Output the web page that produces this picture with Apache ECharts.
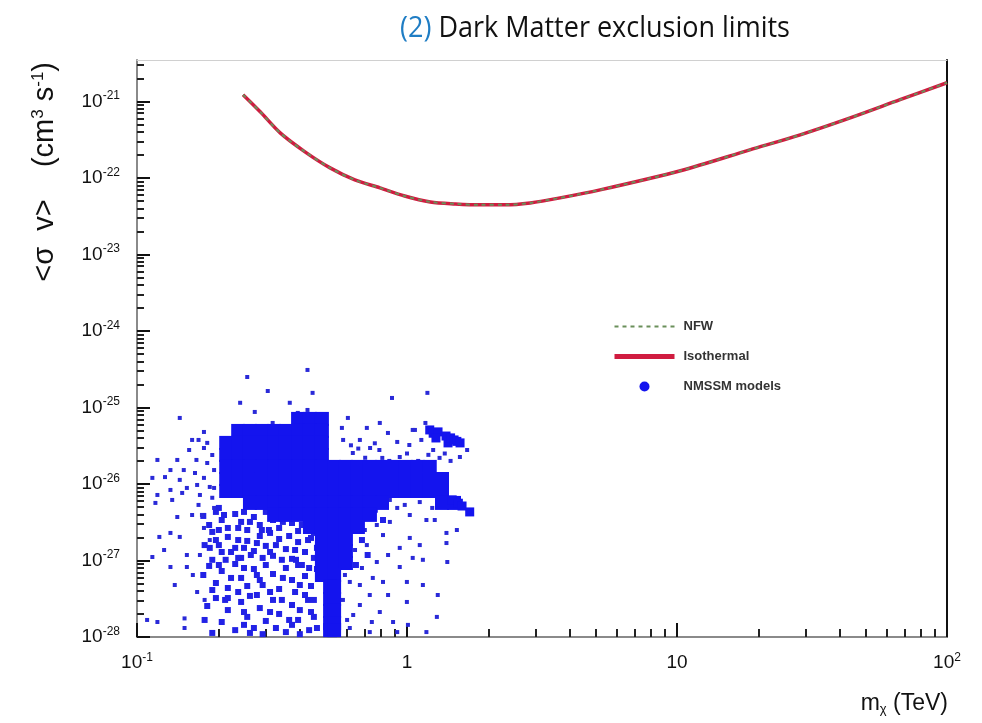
<!DOCTYPE html>
<html><head><meta charset="utf-8">
<script src="https://cdn.jsdelivr.net/npm/echarts@6/dist/echarts.min.js"></script>
<style>html,body{margin:0;padding:0;background:#fff}#c{width:982px;height:723px}</style>
</head><body><div id="c"></div>
<script>
// ---- axis ticks ----
const massTicks = [0.1, 1, 10, 100];
const sigmaTicks = [1e-28, 1e-27, 1e-26, 1e-25, 1e-24, 1e-23, 1e-22, 1e-21];
const massMin = 0.1, massMax = 100;
const sigmaMin = 1e-28, sigmaMax = 3.47e-21;

// ---- exclusion curves [mass TeV, <sigma v> cm^3 s^-1] ----
const isothermal = [[0.247,1.22e-21],[0.286,7.3e-22],[0.339,3.87e-22],[0.419,2.19e-22],[0.519,1.35e-22],[0.641,9.4e-23],[0.794,7.4e-23],[0.98,5.8e-23],[1.22,4.85e-23],[1.51,4.57e-23],[1.86,4.44e-23],[2.31,4.44e-23],[2.86,4.71e-23],[3.69,5.48e-23],[5.19,6.97e-23],[10.3,1.24e-22],[18.6,2.32e-22],[28.6,3.65e-22],[43.8,6.08e-22],[67.0,1.05e-21],[100,1.75e-21]];
const nfw = [[0.247,1.22e-21],[0.286,7.3e-22],[0.339,3.87e-22],[0.419,2.19e-22],[0.519,1.35e-22],[0.641,9.4e-23],[0.794,7.4e-23],[0.98,5.8e-23],[1.22,4.85e-23],[1.51,4.57e-23],[1.86,4.44e-23],[2.31,4.44e-23],[2.86,4.71e-23],[3.69,5.48e-23],[5.19,6.97e-23],[10.3,1.24e-22],[18.6,2.32e-22],[28.6,3.65e-22],[43.8,6.08e-22],[67.0,1.05e-21],[100,1.75e-21]];

// ---- NMSSM model points (dense core) ----
const nmssmDense = [
[0.395,7.08e-26],[0.437,7.08e-26],[0.484,7.08e-26],
[0.237,4.93e-26],[0.262,4.93e-26],[0.290,4.93e-26],[0.322,4.93e-26],[0.356,4.93e-26],[0.395,4.93e-26],[0.437,4.93e-26],[0.484,4.93e-26],
[0.214,3.44e-26],[0.237,3.44e-26],[0.262,3.44e-26],[0.290,3.44e-26],[0.322,3.44e-26],[0.356,3.44e-26],[0.395,3.44e-26],[0.437,3.44e-26],[0.484,3.44e-26],
[0.214,2.39e-26],[0.237,2.39e-26],[0.262,2.39e-26],[0.290,2.39e-26],[0.322,2.39e-26],[0.356,2.39e-26],[0.395,2.39e-26],[0.437,2.39e-26],[0.484,2.39e-26],
[0.214,1.67e-26],[0.237,1.67e-26],[0.262,1.67e-26],[0.290,1.67e-26],[0.322,1.67e-26],[0.356,1.67e-26],[0.395,1.67e-26],[0.437,1.67e-26],[0.484,1.67e-26],[0.537,1.67e-26],[0.594,1.67e-26],[0.658,1.67e-26],[0.729,1.67e-26],[0.808,1.67e-26],[0.895,1.67e-26],[0.991,1.67e-26],[1.098,1.67e-26],[1.214,1.67e-26],
[0.214,1.16e-26],[0.237,1.16e-26],[0.262,1.16e-26],[0.290,1.16e-26],[0.322,1.16e-26],[0.356,1.16e-26],[0.395,1.16e-26],[0.437,1.16e-26],[0.484,1.16e-26],[0.537,1.16e-26],[0.594,1.16e-26],[0.658,1.16e-26],[0.729,1.16e-26],[0.808,1.16e-26],[0.895,1.16e-26],[0.991,1.16e-26],[1.098,1.16e-26],[1.214,1.16e-26],[1.348,1.16e-26],
[0.214,8.09e-27],[0.237,8.09e-27],[0.262,8.09e-27],[0.290,8.09e-27],[0.322,8.09e-27],[0.356,8.09e-27],[0.395,8.09e-27],[0.437,8.09e-27],[0.484,8.09e-27],[0.537,8.09e-27],[0.594,8.09e-27],[0.658,8.09e-27],[0.729,8.09e-27],[0.808,8.09e-27],[0.895,8.09e-27],[0.991,8.09e-27],[1.098,8.09e-27],[1.214,8.09e-27],[1.348,8.09e-27],
[0.262,5.65e-27],[0.290,5.65e-27],[0.322,5.65e-27],[0.356,5.65e-27],[0.395,5.65e-27],[0.437,5.65e-27],[0.484,5.65e-27],[0.537,5.65e-27],[0.594,5.65e-27],[0.658,5.65e-27],[0.729,5.65e-27],[0.808,5.65e-27],[1.348,5.65e-27],[1.493,5.65e-27],
[0.322,3.94e-27],[0.356,3.94e-27],[0.395,3.94e-27],[0.437,3.94e-27],[0.484,3.94e-27],[0.537,3.94e-27],[0.594,3.94e-27],[0.658,3.94e-27],[0.729,3.94e-27],
[0.437,2.74e-27],[0.484,2.74e-27],[0.537,2.74e-27],[0.594,2.74e-27],[0.658,2.74e-27],
[0.484,1.91e-27],[0.537,1.91e-27],[0.594,1.91e-27],
[0.484,1.33e-27],[0.537,1.33e-27],[0.594,1.33e-27],
[0.484,9.27e-28],[0.537,9.27e-28],[0.594,9.27e-28],
[0.484,6.46e-28],[0.519,6.46e-28],[0.537,6.46e-28],
[0.519,4.51e-28],[0.537,4.51e-28],
[0.519,3.14e-28],[0.537,3.14e-28],
[0.519,2.19e-28],[0.537,2.19e-28],
[0.519,1.52e-28],[0.537,1.52e-28],
[0.519,1.23e-28],[0.537,1.23e-28]
];
// ---- NMSSM small clusters (upper blob near 1.3 TeV, arm tip) ----
const nmssmBlob = [[1.214,5.08e-26],[1.25,4.6e-26],[1.303,4.79e-26],[1.280,3.99e-26],[1.395,4.23e-26],[1.419,3.44e-26],[1.45,4.0e-26],[1.494,3.76e-26],[1.53,3.6e-26],[1.572,3.44e-26],
[1.47,6.2e-27],[1.55,5.6e-27],[1.599,5.15e-27],[1.707,4.31e-27]];
// ---- NMSSM medium density region below the core ----
const nmssmMedium = [
[0.176,3.82e-27],[0.185,2.91e-27],[0.196,4.31e-27],[0.206,3.38e-27],[0.217,2.66e-27],[0.231,4.05e-27],[0.243,3.19e-27],[0.256,2.50e-27],[0.271,3.70e-27],[0.285,2.91e-27],[0.300,4.31e-27],[0.319,3.38e-27],[0.336,2.66e-27],[0.356,3.93e-27],[0.375,3.09e-27],[0.395,2.43e-27],[0.419,3.59e-27],[0.441,2.82e-27],[0.464,4.18e-27],[0.190,2.36e-27],
[0.178,1.59e-27],[0.196,1.85e-27],[0.206,1.29e-27],[0.217,2.03e-27],[0.231,1.46e-27],[0.243,1.08e-27],[0.256,1.80e-27],[0.271,1.33e-27],[0.285,2.09e-27],[0.300,1.55e-27],[0.319,1.15e-27],[0.336,1.91e-27],[0.356,1.41e-27],[0.375,1.05e-27],[0.395,1.74e-27],[0.419,1.29e-27],[0.441,1.97e-27],[0.464,1.46e-27],[0.213,1.02e-27],[0.311,2.29e-27],
[0.176,6.46e-28],[0.185,8.48e-28],[0.196,5.08e-28],[0.206,7.29e-28],[0.217,4.37e-28],[0.231,9.00e-28],[0.243,5.91e-28],[0.256,4.64e-28],[0.271,7.74e-28],[0.285,5.56e-28],[0.300,8.73e-28],[0.319,6.66e-28],[0.336,4.24e-28],[0.356,7.98e-28],[0.375,5.56e-28],[0.395,8.73e-28],[0.419,6.27e-28],[0.441,4.64e-28],[0.464,7.74e-28],[0.262,3.44e-28],
[0.182,2.54e-28],[0.196,3.23e-28],[0.206,1.57e-28],[0.217,2.25e-28],[0.231,1.23e-28],[0.243,2.87e-28],[0.256,1.83e-28],[0.271,1.31e-28],[0.285,2.39e-28],[0.300,1.62e-28],[0.319,3.05e-28],[0.336,2.00e-28],[0.356,1.16e-28],[0.375,2.62e-28],[0.395,1.67e-28],[0.419,3.54e-28],[0.441,2.12e-28],[0.464,1.31e-28],[0.190,1.13e-28],[0.292,1.09e-28],[0.401,1.09e-28],
[0.186,1.46e-27],[0.201,8.73e-28],[0.223,1.29e-27],[0.237,1.85e-27],[0.249,7.98e-28],[0.264,1.18e-27],[0.278,1.69e-27],[0.292,1.08e-27],[0.308,2.50e-27],[0.327,1.59e-27],[0.344,1.02e-27],[0.366,2.09e-27],[0.385,1.37e-27],[0.408,8.73e-28],[0.430,1.85e-27],[0.452,1.08e-27],
[0.190,4.11e-28],[0.212,3.05e-28],[0.237,3.87e-28],[0.249,2.12e-28],[0.278,3.54e-28],[0.292,4.78e-28],[0.311,2.12e-28],[0.344,3.05e-28],[0.366,1.67e-28],[0.385,3.87e-28],[0.430,3.05e-28],[0.452,1.83e-28],[0.223,5.91e-28],[0.327,1.31e-28],[0.401,2.25e-28],[0.262,1.13e-28],[0.201,4.86e-27],[0.249,4.31e-27],[0.201,2.50e-27],
[0.21,3.93e-27],[0.237,2.66e-27],[0.262,3.19e-27],[0.290,2.50e-27],[0.347,3.19e-27],[0.388,3.82e-27],[0.408,2.91e-27],[0.452,2.29e-27],[0.201,1.59e-27],[0.249,1.46e-27],[0.311,1.29e-27],[0.388,1.02e-27],[0.434,7.98e-28],[0.347,5.91e-28],[0.278,6.46e-28],[0.237,1.08e-27],[0.190,1.02e-27],[0.401,4.78e-28],[0.452,3.05e-28],[0.311,3.87e-28],[0.217,3.23e-28],[0.375,1.44e-28],[0.434,1.23e-28],[0.249,1.44e-28],[0.178,1.67e-28],
[0.614,4.31e-27],[0.681,1.85e-27],[0.76,4.6e-27],[0.815,3.38e-27],[0.62,2.5e-27],[0.715,1.18e-27],[0.647,8.73e-28]
];
// ---- NMSSM sparse points ----
const nmssmSparse = [
[0.428,3.09e-25],[0.256,2.5e-25],[0.305,1.64e-25],[0.447,1.55e-25],[0.241,1.15e-25],[0.368,1.15e-25],[0.88,1.33e-25],[1.19,1.55e-25],[0.273,8.73e-26],[0.144,7.29e-26],[0.604,7.29e-26],[0.793,6.27e-26],[0.71,5.4e-26],[0.574,5.4e-26],[1.05,5.08e-26],[0.92,3.54e-26],[0.318,6.27e-26],[0.394,8.48e-26],[0.428,9.27e-26],[0.85,4.64e-26],[1.07,5.08e-26],[1.17,6.27e-26],[0.669,3.76e-26],[0.58,3.76e-26],[0.79,2.78e-26],[0.73,2.95e-26],[1.02,3.23e-26],[1.13,3.76e-26],[1.67,2.78e-26],[1.57,2.25e-26],[1.32,2.19e-26],[1.25,2.78e-26],[0.63,2.54e-26],[0.94,2.25e-26],[0.81,2.19e-26],
[0.62,3.2e-26],[0.70,2.2e-26],[0.86,2.0e-26],[1.0,2.5e-26],[1.1,2.0e-26],[1.2,2.4e-26],[0.76,3.4e-26],[0.66,2.9e-26],[1.38,2.5e-26],[1.45,2.0e-26],
[0.177,4.78e-26],[0.160,3.76e-26],[0.169,3.76e-26],[0.182,3.44e-26],[0.156,2.78e-26],[0.177,2.95e-26],[0.141,2.06e-26],[0.119,2.06e-26],[0.133,1.52e-26],[0.149,1.52e-26],[0.164,1.39e-26],[0.182,1.88e-26],[0.127,1.23e-26],[0.144,1.13e-26],[0.177,1.20e-26],[0.114,1.20e-26],[0.167,9.7e-27],[0.153,8.87e-27],[0.133,8.35e-27],[0.186,9.14e-27],[0.119,7.18e-27],[0.147,7.63e-27],[0.117,5.65e-27],[0.135,6.18e-27],[0.141,3.70e-27],[0.121,2.03e-27],[0.144,2.03e-27],[0.133,2.29e-27],[0.114,1.11e-27],[0.126,1.37e-27],[0.153,1.18e-27],[0.133,8.22e-28],[0.153,8.22e-28],[0.109,1.67e-28],[0.119,1.57e-28],[0.150,1.75e-28],[0.150,1.31e-28],[0.167,3.87e-28],[0.171,1.18e-27],[0.177,2.66e-27],[0.174,3.93e-27],[0.169,5.32e-27],[0.193,4.86e-27],[0.19,6.6e-27],[0.160,3.93e-27],[0.186,1.85e-27],[0.161,6.46e-28],[0.178,3.05e-28],[0.138,4.78e-28],
[0.193,1.52e-26],[0.19,2.39e-26],[0.193,8.87e-27],[0.166,2.06e-26],[0.171,7.18e-27],
[0.920,4.86e-27],[1.024,3.93e-27],[1.18,3.38e-27],[1.267,3.38e-27],[1.53,2.50e-27],[1.40,1.69e-27],[1.115,1.59e-27],[1.024,1.97e-27],[0.940,1.46e-27],[1.05,1.08e-27],[1.145,1.02e-27],[0.851,1.18e-27],[0.940,8.22e-28],[0.815,5.24e-28],[0.999,5.24e-28],[1.145,4.78e-28],[1.30,3.54e-28],[0.851,3.54e-28],[0.999,2.87e-28],[0.793,2.12e-28],[1.29,1.83e-28],[0.888,1.57e-28],[1.008,1.44e-28],[1.18,1.16e-28],[0.728,3.54e-28],[0.747,5.91e-28],[0.773,9.56e-28],[0.710,1.59e-27],[0.815,2.15e-27],[0.773,2.91e-27],[0.864,3.19e-27],[1.40,2.29e-27],[1.41,9.56e-28],[0.741,1.57e-28],[0.669,2.62e-28],[0.669,4.78e-28],[0.681,7.98e-28],[0.614,5.24e-28],[0.632,1.94e-28],[0.614,1.31e-28],[0.728,1.16e-28],[0.920,1.16e-28],[0.864,6.18e-27],[0.981,5.32e-27],[1.115,5.8e-27],[1.24,4.86e-27],[0.589,6.46e-28],[0.614,1.02e-27],[0.579,3.05e-28],[0.600,1.67e-28],[0.642,1.37e-27],[0.698,2.50e-27],[0.652,3.38e-27],[0.741,3.93e-27]
];

// ---- tick positions; y decorations are drawn on exponent axes aligned with the log axis ----
const xMinor = [], yMinorExp = [];
const sigmaExps = sigmaTicks.map(function (v) { return Math.round(Math.log10(v)); });
massTicks.forEach(function (d) { for (let k = 2; k <= 9; k++) { const v = k * d; if (v < massMax) xMinor.push(v); } });
sigmaExps.forEach(function (e) { for (let k = 2; k <= 9; k++) { const v = e + Math.log10(k); if (v < Math.log10(sigmaMax)) yMinorExp.push(v); } });
const expMin = Math.log10(sigmaMin), expMax = Math.log10(sigmaMax);

const FONT = 'Liberation Sans, Arial, sans-serif';
const labelRich = {
  m: { fontSize: 19, fontFamily: FONT, color: '#111', lineHeight: 24 },
  e: { fontSize: 12, fontFamily: FONT, color: '#111', lineHeight: 13, padding: [0, 0, 11, 0] }
};
function yLabel(v) { return '{m|10}{e|' + Math.round(v) + '}'; }
function xLabel(v) {
  const e = Math.round(Math.log10(v));
  if (e === 0) return '{m|1}';
  if (e === 1) return '{m|10}';
  return '{m|10}{e|' + e + '}';
}

const chart = echarts.init(document.getElementById('c'), null, { renderer: 'canvas' });
const scatterBase = { type: 'scatter', name: 'NMSSM models', xAxisIndex: 0, yAxisIndex: 0, symbol: 'rect', z: 3 };
const off = { show: false };

chart.setOption({
  animation: false,
  backgroundColor: '#ffffff',
  grid: { left: 137, top: 60, width: 810, height: 577, containLabel: false, outerBoundsMode: 'none', show: false },
  xAxis: [
    { type: 'log', position: 'bottom', min: massMin, max: massMax, logBase: 10,
      axisLine: { show: true, lineStyle: { color: '#8a8a8a', width: 2 } },
      axisTick: { show: true, inside: true, length: 14, customValues: massTicks, lineStyle: { color: '#111', width: 2 } },
      axisLabel: { show: true, customValues: massTicks, margin: 14, formatter: xLabel, rich: labelRich },
      splitLine: off, minorTick: off },
    { type: 'log', position: 'bottom', min: massMin, max: massMax, logBase: 10,
      axisLine: off,
      axisTick: { show: true, inside: true, length: 8, customValues: xMinor, lineStyle: { color: '#222', width: 2 } },
      axisLabel: off, splitLine: off },
    { type: 'log', position: 'top', min: massMin, max: massMax, logBase: 10,
      axisLine: { show: true, lineStyle: { color: '#d0d0d0', width: 1 } },
      axisTick: off, axisLabel: off, splitLine: off }
  ],
  yAxis: [
    { type: 'log', position: 'left', min: sigmaMin, max: sigmaMax, logBase: 10,
      axisLine: { show: true, lineStyle: { color: '#8a8a8a', width: 2 } },
      axisTick: off, axisLabel: off, splitLine: off, minorTick: off },
    { type: 'value', position: 'left', min: expMin, max: expMax,
      axisLine: off,
      axisTick: { show: true, inside: true, length: 13, customValues: sigmaExps, lineStyle: { color: '#111', width: 2 } },
      axisLabel: { show: true, customValues: sigmaExps, margin: 17, formatter: yLabel, rich: labelRich },
      splitLine: off },
    { type: 'value', position: 'left', min: expMin, max: expMax,
      axisLine: off,
      axisTick: { show: true, inside: true, length: 7, customValues: yMinorExp, lineStyle: { color: '#222', width: 2 } },
      axisLabel: off, splitLine: off },
    { type: 'log', position: 'right', min: sigmaMin, max: sigmaMax, logBase: 10,
      axisLine: { show: true, lineStyle: { color: '#111', width: 2 } },
      axisTick: off, axisLabel: off, splitLine: off }
  ],
  legend: {
    orient: 'vertical', left: 607, top: 315, itemWidth: 60, itemHeight: 10, itemGap: 17,
    textStyle: { fontSize: 13, fontWeight: 'bold', color: '#333', fontFamily: FONT, padding: [0, 0, 0, 4] },
    data: [
      { name: 'NFW', itemStyle: { opacity: 0 } },
      { name: 'Isothermal', itemStyle: { opacity: 0 }, lineStyle: { width: 5 } },
      { name: 'NMSSM models', icon: 'circle', itemStyle: { color: '#1414ee', opacity: 1 } }
    ]
  },
  graphic: [
    { type: 'text', x: 400, y: 13, scaleX: 0.9, z: 10,
      style: { text: '{a|(2)} Dark Matter exclusion limits', fontSize: 30, fontFamily: 'Open Sans, sans-serif', fill: '#111',
        rich: { a: { fontSize: 30, fontFamily: 'Open Sans, sans-serif', fill: '#1f7dc4' } } } },
    { type: 'text', x: 45, y: 62, rotation: Math.PI / 2, z: 10,
      style: { text: '<\u03c3  v>    (cm{s|3} s{s|-1})', align: 'right', verticalAlign: 'middle', fontSize: 29, fontFamily: FONT, fill: '#111',
        rich: { s: { fontSize: 17, fontFamily: FONT, fill: '#111', padding: [0, 0, 14, 0] } } } },
    { type: 'text', x: 948, y: 704, z: 10,
      style: { text: 'm{s|\u03c7} (TeV)', align: 'right', verticalAlign: 'middle', fontSize: 23, fontFamily: FONT, fill: '#111',
        rich: { s: { fontSize: 13, fontFamily: FONT, fill: '#111', padding: [10, 0, 0, 0] } } } }
  ],
  series: [
    Object.assign({}, scatterBase, { data: nmssmMedium, symbolSize: 6, itemStyle: { color: '#2222e6', opacity: 1 } }),
    Object.assign({}, scatterBase, { data: nmssmSparse, symbolSize: 4, itemStyle: { color: '#2a2ad8', opacity: 1 } }),
    Object.assign({}, scatterBase, { data: nmssmDense, symbolSize: 14, itemStyle: { color: '#1414ee', opacity: 1 } }),
    Object.assign({}, scatterBase, { data: nmssmBlob, symbolSize: 9, itemStyle: { color: '#1414ee', opacity: 1 } }),
    { type: 'line', name: 'Isothermal', data: isothermal, xAxisIndex: 0, yAxisIndex: 0, symbol: 'none', smooth: 0.3, z: 4,
      lineStyle: { color: '#d01c40', width: 3.5 }, itemStyle: { color: '#d01c40' } },
    { type: 'line', name: 'NFW', data: nfw, xAxisIndex: 0, yAxisIndex: 0, symbol: 'none', smooth: 0.3, z: 5,
      lineStyle: { color: '#6a8f5a', width: 2, type: [4, 4] }, itemStyle: { color: '#6a8f5a' } }
  ]
});
</script>
</body></html>
